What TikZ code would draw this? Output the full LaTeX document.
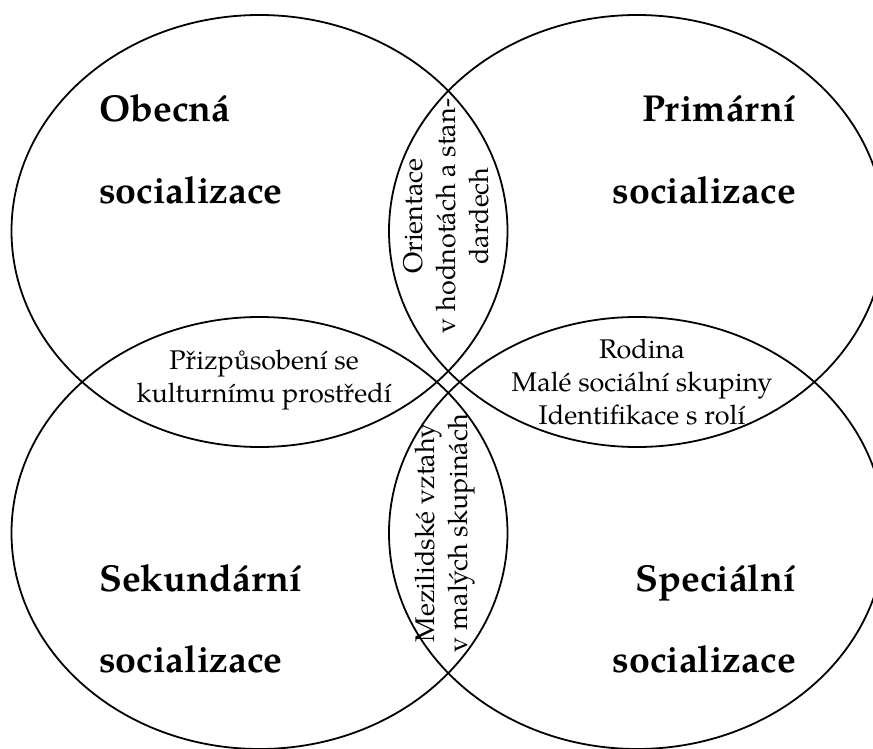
\documentclass[tikz,border=0pt]{standalone}
\usepackage{fontspec}
\setmainfont{TeX Gyre Pagella}
\begin{document}
\begin{tikzpicture}[x=1pt,y=-1pt,
  circ/.style={line width=1.8pt},
  big/.style={font=\fontsize{37.5}{45}\selectfont\bfseries, inner sep=0pt},
  small/.style={font=\fontsize{27}{33}\selectfont, inner sep=0pt, align=center}]
\useasboundingbox (0,0) rectangle (873,749);
\clip (0,0) rectangle (873,749);
\coordinate (tl) at (259.5,231);
\coordinate (tr) at (637,231);
\coordinate (bl) at (259.5,533);
\coordinate (br) at (637,533);
\draw[circ] (tl) ellipse [x radius=248pt, y radius=216pt];
\draw[circ] (tr) ellipse [x radius=248pt, y radius=216pt];
\draw[circ] (bl) ellipse [x radius=248pt, y radius=216pt];
\draw[circ] (br) ellipse [x radius=248pt, y radius=216pt];
% bold labels
\node[big, anchor=base west] (ob1) at (99,122) {Obecná};
\node[big, anchor=base west] (ob2) at (99,203) {socializace};
\node[big, anchor=base east] (pr1) at (796,122) {Primární};
\node[big, anchor=base east] (pr2) at (796,203) {socializace};
\node[big, anchor=base west] (se1) at (99,591) {Sekundární};
\node[big, anchor=base west] (se2) at (99,672) {socializace};
\node[big, anchor=base east] (sp1) at (796,591) {Speciální};
\node[big, anchor=base east] (sp2) at (796,672) {socializace};
% lens labels
\node[small] (top) at (446,216) [rotate=90] {Orientace\\v hodnotách a stan-\\dardech};
\node[small] (left) at (264,380) {Přizpůsobení se\\kulturnímu prostředí};
\node[small] (right) at (642,382) {Rodina\\Malé sociální skupiny\\Identifikace s rolí};
\node[small] (bottom) at (445,533) [rotate=90] {Mezilidské vztahy\\v malých skupinách};
\end{tikzpicture}
\end{document}
